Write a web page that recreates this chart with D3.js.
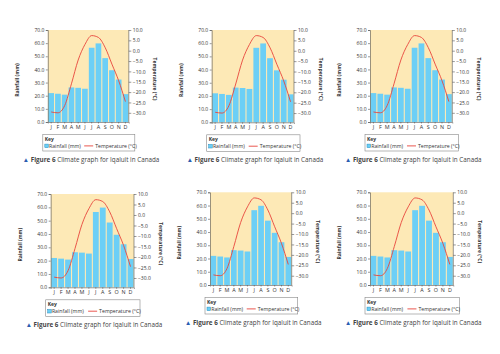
<!DOCTYPE html>
<html>
<head>
<meta charset="utf-8">
<script src="https://cdn.jsdelivr.net/npm/d3@7"></script>
<style>
  body { margin: 0; background: #fff; }
  svg { display: block; }
</style>
</head>
<body>
<div id="chart"></div>
<script>
// Climate graph for Iqaluit, drawn six times as in the reference sheet

var months = ["J", "F", "M", "A", "M", "J", "J", "A", "S", "O", "N", "D"];
var rainfall = [22.0, 21.5, 20.8, 26.3, 26.0, 25.3, 56.5, 59.8, 48.6, 39.4, 32.3, 21.2];
var temperature = [-29.6, -30.0, -26.5, -16.0, -4.5, 3.0, 7.3, 6.4, 1.5, -6.5, -14.5, -24.6];
var rainTicks = [0, 10, 20, 30, 40, 50, 60, 70];
var tempTicks = [10, 5, 0, -5, -10, -15, -20, -25, -30];

var rainLabel = "Rainfall (mm)";
var tempLabel = "Temperature (°C)";
var figLabel = "Figure 6";
var figText = " Climate graph for Iqaluit in Canada";

// plot-area boxes of the six copies
var panels = [
    { x: 47.8,  y: 30,    w: 81,   h: 92 },
    { x: 211.7, y: 30,    w: 82.3, h: 92.3 },
    { x: 370,   y: 30,    w: 82.3, h: 92 },
    { x: 50.7,  y: 194,   w: 83.3, h: 93.3 },
    { x: 210,   y: 192.3, w: 81.7, h: 92.7 },
    { x: 370,   y: 192.3, w: 83.3, h: 92.7 }
];

var W = 500, H = 354;
var font = "'Open Sans', 'Noto Sans', sans-serif";
var fmt = function(v) { return d3.format(".1f")(v).replace("-", "\u2212"); };

var svg = d3.select("#chart").append("svg")
    .attr("width", W)
    .attr("height", H)
    .style("font-family", font);

panels.forEach(function(p) {
    var g = svg.append("g")
        .attr("transform", "translate(" + p.x + "," + p.y + ")");

    var x = d3.scaleBand()
        .domain(d3.range(months.length))
        .range([0, p.w])
        .paddingInner(0.16)
        .paddingOuter(0.08);

    var yR = d3.scaleLinear().domain([0, 70]).range([p.h, 0]);
    // -30 sits at 90% of the height, the axis runs on below it
    var yT = d3.scaleLinear().domain([-30, 10]).range([p.h * 0.9, 0]);

    // background
    g.append("rect")
        .attr("width", p.w)
        .attr("height", p.h)
        .attr("fill", "#fde9b6");

    // bars
    g.selectAll(".bar")
        .data(rainfall)
        .enter().append("rect")
        .attr("class", "bar")
        .attr("x", function(d, i) { return x(i); })
        .attr("y", function(d) { return yR(d); })
        .attr("width", x.bandwidth())
        .attr("height", function(d) { return p.h - yR(d); })
        .attr("fill", "#6ccff6");

    // temperature line
    var line = d3.line()
        .curve(d3.curveMonotoneX)
        .x(function(d, i) { return x(i) + x.bandwidth() / 2; })
        .y(function(d) { return yT(d); });

    g.append("path")
        .datum(temperature)
        .attr("fill", "none")
        .attr("stroke", "#e8453c")
        .attr("stroke-width", 0.9)
        .attr("d", line);

    // axes
    var left = g.append("g")
        .call(d3.axisLeft(yR).tickValues(rainTicks).tickSize(2).tickPadding(1.5).tickFormat(fmt));
    var right = g.append("g")
        .attr("transform", "translate(" + p.w + ",0)")
        .call(d3.axisRight(yT).tickValues(tempTicks).tickSize(2.5).tickPadding(1.5).tickFormat(fmt));
    right.select(".domain").attr("d", "M0,0V" + p.h);
    var bottom = g.append("g")
        .attr("transform", "translate(0," + p.h + ")")
        .call(d3.axisBottom(x).tickSize(1.5).tickPadding(1.5).tickFormat(function(i) { return months[i]; }));

    [left, right, bottom].forEach(function(a) {
        a.selectAll("path, line").attr("stroke", "#555").attr("stroke-width", 0.6);
        a.selectAll("text")
            .attr("fill", "#333")
            .style("font-size", "5px")
            .style("font-family", font);
    });
    bottom.selectAll("text").style("font-size", "5.4px");

    // axis titles
    g.append("text")
        .attr("transform", "translate(" + (-29) + "," + (p.h / 2 + 4) + ") rotate(-90)")
        .attr("text-anchor", "middle")
        .style("font-size", "5px")
        .style("font-weight", "bold")
        .attr("fill", "#333")
        .text(rainLabel);

    g.append("text")
        .attr("transform", "translate(" + (p.w + 24.5) + "," + (p.h / 2 + 3) + ") rotate(90)")
        .attr("text-anchor", "middle")
        .style("font-size", "5px")
        .style("font-weight", "bold")
        .attr("fill", "#333")
        .text(tempLabel);

    // key box
    var kx = -5, ky = p.h + 12.5, kw = p.w + 11, kh = 16.5;
    var key = g.append("g").attr("transform", "translate(" + kx + "," + ky + ")");
    key.append("rect")
        .attr("width", kw)
        .attr("height", kh)
        .attr("fill", "#fff")
        .attr("stroke", "#888")
        .attr("stroke-width", 0.6);
    key.append("text")
        .attr("x", 2)
        .attr("y", 6.2)
        .style("font-size", "5px")
        .style("font-weight", "bold")
        .attr("fill", "#333")
        .text("Key");
    key.append("rect")
        .attr("x", 2)
        .attr("y", 9.6)
        .attr("width", 3.6)
        .attr("height", 3.6)
        .attr("fill", "#6ccff6")
        .attr("stroke", "#2a8fc0")
        .attr("stroke-width", 0.5);
    key.append("text")
        .attr("x", 6.2)
        .attr("y", 13.1)
        .style("font-size", "5.2px")
        .attr("fill", "#333")
        .text(rainLabel);
    key.append("line")
        .attr("x1", kw * 0.45)
        .attr("x2", kw * 0.45 + 9)
        .attr("y1", 11.4)
        .attr("y2", 11.4)
        .attr("stroke", "#e8453c")
        .attr("stroke-width", 0.9);
    key.append("text")
        .attr("x", kw * 0.45 + 11)
        .attr("y", 13.1)
        .style("font-size", "5.2px")
        .attr("fill", "#333")
        .text(tempLabel);

    // caption
    var cap = g.append("text")
        .attr("x", -25)
        .attr("y", p.h + 40)
        .style("font-size", "6.3px")
        .attr("fill", "#444");
    cap.append("tspan").attr("fill", "#2a5db0").text("\u25B2 ");
    cap.append("tspan").style("font-weight", "bold").text(figLabel);
    cap.append("tspan").text(figText);
});
</script>
</body>
</html>
